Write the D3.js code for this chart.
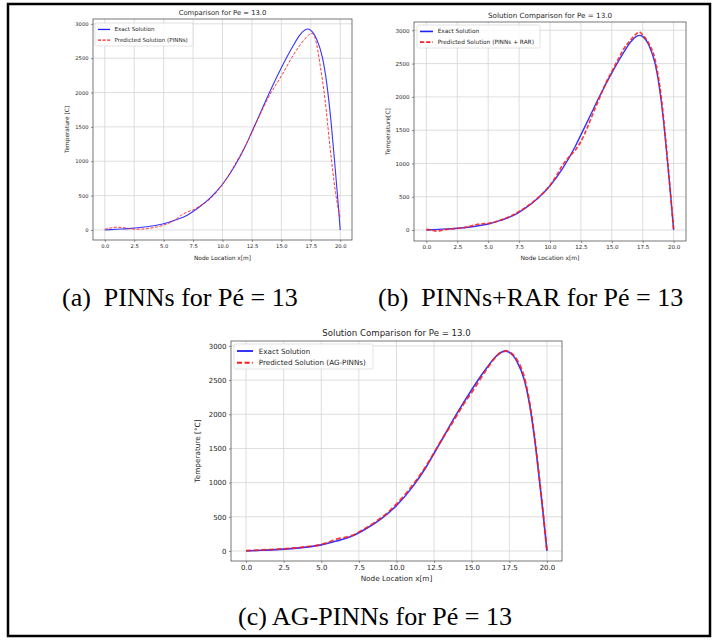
<!DOCTYPE html>
<html lang="en">
  <head>
    <meta charset="utf-8">
    <title>Solution Comparison for Pe = 13</title>
    <script src="https://d3js.org/d3.v7.js"></script>
    <style>
      body { margin: 0; background: #fff; }
      svg text { font-family: "DejaVu Sans", sans-serif; fill: #262626; }
      svg text.caption { font-family: "Liberation Serif", "Times New Roman", serif; fill: #000; }
    </style>
  </head>

  <body>
    <script>
      // ---- data ----
      const xTicks = [0, 2.5, 5, 7.5, 10, 12.5, 15, 17.5, 20];
      const yTicks = [0, 500, 1000, 1500, 2000, 2500, 3000];

      // exact solution (same in all three panels)
      const xExact = [0, 1, 2, 3, 4, 5, 6, 7, 8, 9, 10, 11, 12, 12.5, 13, 13.5, 14, 15, 16, 16.5, 17, 17.25, 17.5, 18, 18.5, 18.75, 19, 19.25, 19.5, 19.75, 20];
      const tExact = [0, 10, 20, 35, 57, 90, 145, 215, 330, 475, 665, 920, 1240, 1430, 1620, 1815, 2005, 2360, 2680, 2820, 2910, 2924, 2905, 2775, 2500, 2260, 1930, 1520, 1040, 540, 0];

      // (a) PINNs
      const xPinn = [0, 0.5, 1, 1.5, 2, 2.5, 3, 4, 5, 6, 6.5, 7, 7.5, 8, 9, 10, 11, 12, 12.5, 13, 14, 15, 16, 17, 17.6, 18, 18.3, 18.7, 19.15, 19.6, 20];
      const tPinn = [10, 28, 40, 35, 22, 12, 12, 30, 70, 150, 215, 262, 292, 340, 460, 660, 935, 1245, 1420, 1610, 1960, 2240, 2540, 2780, 2860, 2700, 2390, 1910, 1180, 545, 170];

      // (b) PINNs + RAR
      const xRar = [0, 0.4, 0.8, 1.2, 1.6, 2, 2.5, 3, 3.5, 4, 4.5, 5, 6, 7, 7.5, 8, 9, 10, 10.5, 11, 11.5, 12, 12.5, 13, 13.5, 14, 14.5, 15, 15.5, 16, 16.5, 17, 17.2, 17.5, 18, 18.5, 19, 19.5, 20];
      const tRar = [10, 0, -15, -5, 10, 18, 25, 35, 55, 80, 95, 100, 150, 225, 280, 335, 480, 670, 810, 970, 1090, 1190, 1330, 1530, 1760, 1980, 2200, 2380, 2560, 2730, 2850, 2950, 2975, 2930, 2800, 2560, 1990, 1060, 0];

      // (c) AG-PINNs
      const xAg = [0, 1, 2, 3, 4, 5, 5.5, 6, 6.5, 7, 8, 9, 9.5, 10, 10.5, 11, 12, 12.5, 13, 13.5, 14, 14.5, 15, 16, 16.5, 17, 17.25, 17.5, 18, 18.5, 19, 19.5, 20];
      const tAg = [5, 15, 25, 40, 62, 95, 130, 175, 195, 225, 340, 490, 580, 690, 810, 945, 1255, 1440, 1625, 1800, 1980, 2160, 2320, 2660, 2815, 2912, 2926, 2912, 2800, 2540, 1960, 1060, 0];

      const captions = ["(a)  PINNs for Pé = 13", "(b)  PINNs+RAR for Pé = 13", "(c) AG-PINNs for Pé = 13"];

      const w = 715;
      const h = 640;

      const svg = d3.select("body")
        .append("svg")
        .attr("width", w)
        .attr("height", h);

      svg.append("rect")
        .attr("x", 0)
        .attr("y", 0)
        .attr("width", w)
        .attr("height", h)
        .attr("fill", "#fff");

      // outer frame
      svg.append("rect")
        .attr("x", 8)
        .attr("y", 4)
        .attr("width", 702)
        .attr("height", 632)
        .attr("fill", "none")
        .attr("stroke", "#000")
        .attr("stroke-width", 2.5);

      const panels = [
        {
          left: 93, top: 19, width: 259, height: 221,
          title: "Comparison for Pe = 13.0", titleY: 15, titleSize: 6.8,
          ylabel: "Temperature [C]", ylabelX: 69,
          xlabelY: 260, labelSize: 5.8, tickSize: 5.2, legendSize: 5.6,
          pred: "Predicted Solution (PINNs)", xp: xPinn, tp: tPinn,
          blueW: 1.1, redW: 1.0, dash: "3,1.6",
          legend: { x: 2, y: 4, w: 98, h: 23, handle: 12 }
        },
        {
          left: 414, top: 22, width: 272, height: 219,
          title: "Solution Comparison for Pe = 13.0", titleY: 18, titleSize: 7.2,
          ylabel: "Temperature[C]", ylabelX: 390,
          xlabelY: 260, labelSize: 6, tickSize: 5.5, legendSize: 5.8,
          pred: "Predicted Solution (PINNs + RAR)", xp: xRar, tp: tRar,
          blueW: 1.4, redW: 1.7, dash: "4.2,2",
          legend: { x: 3, y: 3, w: 123, h: 23, handle: 13 }
        },
        {
          left: 231, top: 341, width: 331, height: 220,
          title: "Solution Comparison for Pe = 13.0", titleY: 336, titleSize: 8.6,
          ylabel: "Temperature [°C]", ylabelX: 200,
          xlabelY: 581, labelSize: 7.3, tickSize: 7, legendSize: 7.2,
          pred: "Predicted Solution (AG-PINNs)", xp: xAg, tp: tAg,
          blueW: 1.6, redW: 1.8, dash: "5,2.6",
          legend: { x: 3, y: 3, w: 139, h: 25, handle: 16 }
        }
      ];

      panels.forEach(p => drawPanel(p));

      function drawPanel(p) {
        const allT = tExact.concat(p.tp);
        const lo = d3.min(allT);
        const hi = d3.max(allT);
        const pad = (hi - lo) * 0.05;

        const xScale = d3.scaleLinear()
          .domain([-1, 21])
          .range([0, p.width]);

        const yScale = d3.scaleLinear()
          .domain([lo - pad, hi + pad])
          .range([p.height, 0]);

        const g = svg.append("g")
          .attr("transform", `translate(${p.left}, ${p.top})`);

        // grid
        g.append("g")
          .selectAll("line")
          .data(xTicks)
          .enter().append("line")
          .attr("x1", d => xScale(d))
          .attr("x2", d => xScale(d))
          .attr("y1", 0)
          .attr("y2", p.height)
          .attr("stroke", "#d6d6d6")
          .attr("stroke-width", 0.8);

        g.append("g")
          .selectAll("line")
          .data(yTicks)
          .enter().append("line")
          .attr("x1", 0)
          .attr("x2", p.width)
          .attr("y1", d => yScale(d))
          .attr("y2", d => yScale(d))
          .attr("stroke", "#d6d6d6")
          .attr("stroke-width", 0.8);

        const xAxis = d3.axisBottom(xScale)
          .tickValues(xTicks)
          .tickFormat(d3.format(".1f"))
          .tickSize(2)
          .tickPadding(2);

        const yAxis = d3.axisLeft(yScale)
          .tickValues(yTicks)
          .tickFormat(d3.format("d"))
          .tickSize(2)
          .tickPadding(2.5);

        g.append("g")
          .attr("transform", `translate(0, ${p.height})`)
          .call(xAxis)
          .call(a => a.selectAll("text").attr("font-size", p.tickSize).attr("font-family", "DejaVu Sans"))
          .call(a => a.selectAll("line").attr("stroke", "#444").attr("stroke-width", 0.6))
          .call(a => a.select(".domain").remove());

        g.append("g")
          .call(yAxis)
          .call(a => a.selectAll("text").attr("font-size", p.tickSize).attr("font-family", "DejaVu Sans"))
          .call(a => a.selectAll("line").attr("stroke", "#444").attr("stroke-width", 0.6))
          .call(a => a.select(".domain").remove());

        // lines
        const line = d3.line()
          .x(d => xScale(d[0]))
          .y(d => yScale(d[1]))
          .curve(d3.curveMonotoneX);

        g.append("path")
          .datum(d3.zip(xExact, tExact))
          .attr("d", line)
          .attr("fill", "none")
          .attr("stroke", "#1f1fff")
          .attr("stroke-opacity", 0.9)
          .attr("stroke-width", p.blueW);

        g.append("path")
          .datum(d3.zip(p.xp, p.tp))
          .attr("d", line)
          .attr("fill", "none")
          .attr("stroke", "#ff1a1a")
          .attr("stroke-opacity", 0.85)
          .attr("stroke-width", p.redW)
          .attr("stroke-dasharray", p.dash);

        // spines
        g.append("rect")
          .attr("width", p.width)
          .attr("height", p.height)
          .attr("fill", "none")
          .attr("stroke", "#555")
          .attr("stroke-width", 0.8);

        // legend
        const L = p.legend;
        const lg = g.append("g").attr("transform", `translate(${L.x}, ${L.y})`);
        lg.append("rect")
          .attr("width", L.w)
          .attr("height", L.h)
          .attr("rx", 1.5)
          .attr("fill", "#fff")
          .attr("fill-opacity", 0.85)
          .attr("stroke", "#d0d0d0")
          .attr("stroke-width", 0.6);

        const entries = [
          { label: "Exact Solution", color: "#1f1fff", w: p.blueW, dash: null },
          { label: p.pred, color: "#ff1a1a", w: p.redW, dash: p.dash }
        ];
        const rowH = L.h / 2.15;
        entries.forEach((e, i) => {
          const cy = L.h * 0.28 + i * rowH;
          lg.append("line")
            .attr("x1", 3)
            .attr("x2", 3 + L.handle)
            .attr("y1", cy)
            .attr("y2", cy)
            .attr("stroke", e.color)
            .attr("stroke-width", e.w + 0.2)
            .attr("stroke-dasharray", e.dash);
          lg.append("text")
            .attr("x", 3 + L.handle + p.legendSize * 0.8)
            .attr("y", cy)
            .attr("dy", "0.35em")
            .attr("font-size", p.legendSize)
            .text(e.label);
        });

        // title and labels
        svg.append("text")
          .attr("x", p.left + p.width / 2)
          .attr("y", p.titleY)
          .attr("text-anchor", "middle")
          .attr("font-size", p.titleSize)
          .text(p.title);

        svg.append("text")
          .attr("x", p.left + xScale(10))
          .attr("y", p.xlabelY)
          .attr("text-anchor", "middle")
          .attr("font-size", p.labelSize)
          .text("Node Location x[m]");

        svg.append("text")
          .attr("transform", `translate(${p.ylabelX}, ${p.top + p.height / 2}) rotate(-90)`)
          .attr("text-anchor", "middle")
          .attr("font-size", p.labelSize)
          .text(p.ylabel);
      }

      // sub-figure captions
      const capPos = [[62, 306, "start"], [378, 306, "start"], [375, 625, "middle"]];
      svg.selectAll("text.caption")
        .data(captions)
        .enter().append("text")
        .attr("class", "caption")
        .attr("x", (d, i) => capPos[i][0])
        .attr("y", (d, i) => capPos[i][1])
        .attr("text-anchor", (d, i) => capPos[i][2])
        .attr("font-size", 26)
        .attr("xml:space", "preserve")
        .style("white-space", "pre")
        .text(d => d);
    </script>
  </body>
</html>
